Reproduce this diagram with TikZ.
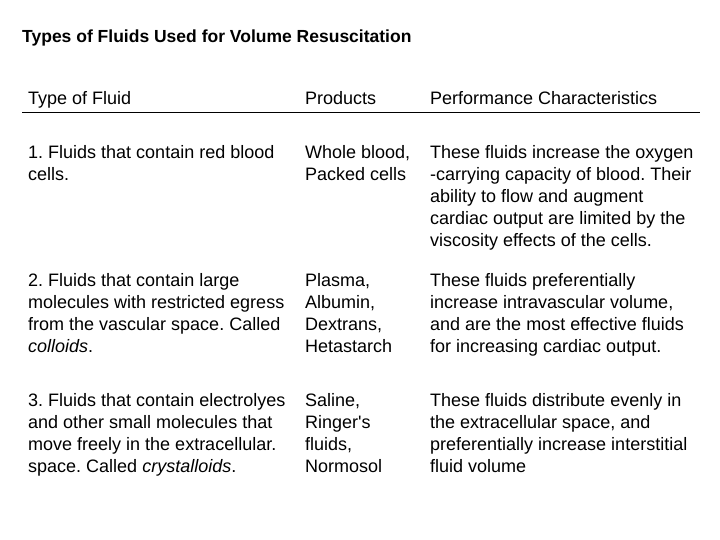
\documentclass[tikz,border=0pt]{standalone}
\usepackage{fontspec}
\setmainfont{Liberation Sans}[Ligatures=TeXOff]
\frenchspacing
\begin{document}
\begin{tikzpicture}[x=1pt,y=-1pt,
  cell/.style={anchor=north west,inner sep=0pt,align=left,font=\fontsize{18}{22}\selectfont},
  rule/.style={line width=0.8pt}]
\useasboundingbox[fill=white] (0,0) rectangle (720,540);
\node[cell,font=\fontsize{17.5}{22}\selectfont\bfseries] (title) at (22,30) {Types of Fluids Used for Volume Resuscitation};
\node[cell] (h1) at (28,91) {Type of Fluid};
\node[cell] (h2) at (305,91) {Products};
\node[cell] (h3) at (430,91) {Performance Characteristics};
\coordinate (la) at (22,112);
\coordinate (lb) at (700,112);
\draw[rule] (la) -- (lb);
\node[cell] (a1) at (28,145) {1. Fluids that contain red blood\\cells.};
\node[cell] (a2) at (305,145) {Whole blood,\\Packed cells};
\node[cell] (a3) at (430,145) {These fluids increase the oxygen\\-carrying capacity of blood. Their\\ability to flow and augment\\cardiac output are limited by the\\viscosity effects of the cells.};
\node[cell] (b1) at (28,273) {2. Fluids that contain large\\molecules with restricted egress\\from the vascular space. Called\\\textit{colloids}.};
\node[cell] (b2) at (305,273) {Plasma,\\Albumin,\\Dextrans,\\Hetastarch};
\node[cell] (b3) at (430,273) {These fluids preferentially\\increase intravascular volume,\\and are the most effective fluids\\for increasing cardiac output.};
\node[cell] (c1) at (28,393) {3. Fluids that contain electrolyes\\and other small molecules that\\move freely in the extracellular.\\space. Called \textit{crystalloids}.};
\node[cell] (c2) at (305,393) {Saline,\\Ringer's\\fluids,\\Normosol};
\node[cell] (c3) at (430,393) {These fluids distribute evenly in\\the extracellular space, and\\preferentially increase interstitial\\fluid volume};
\end{tikzpicture}
\end{document}
